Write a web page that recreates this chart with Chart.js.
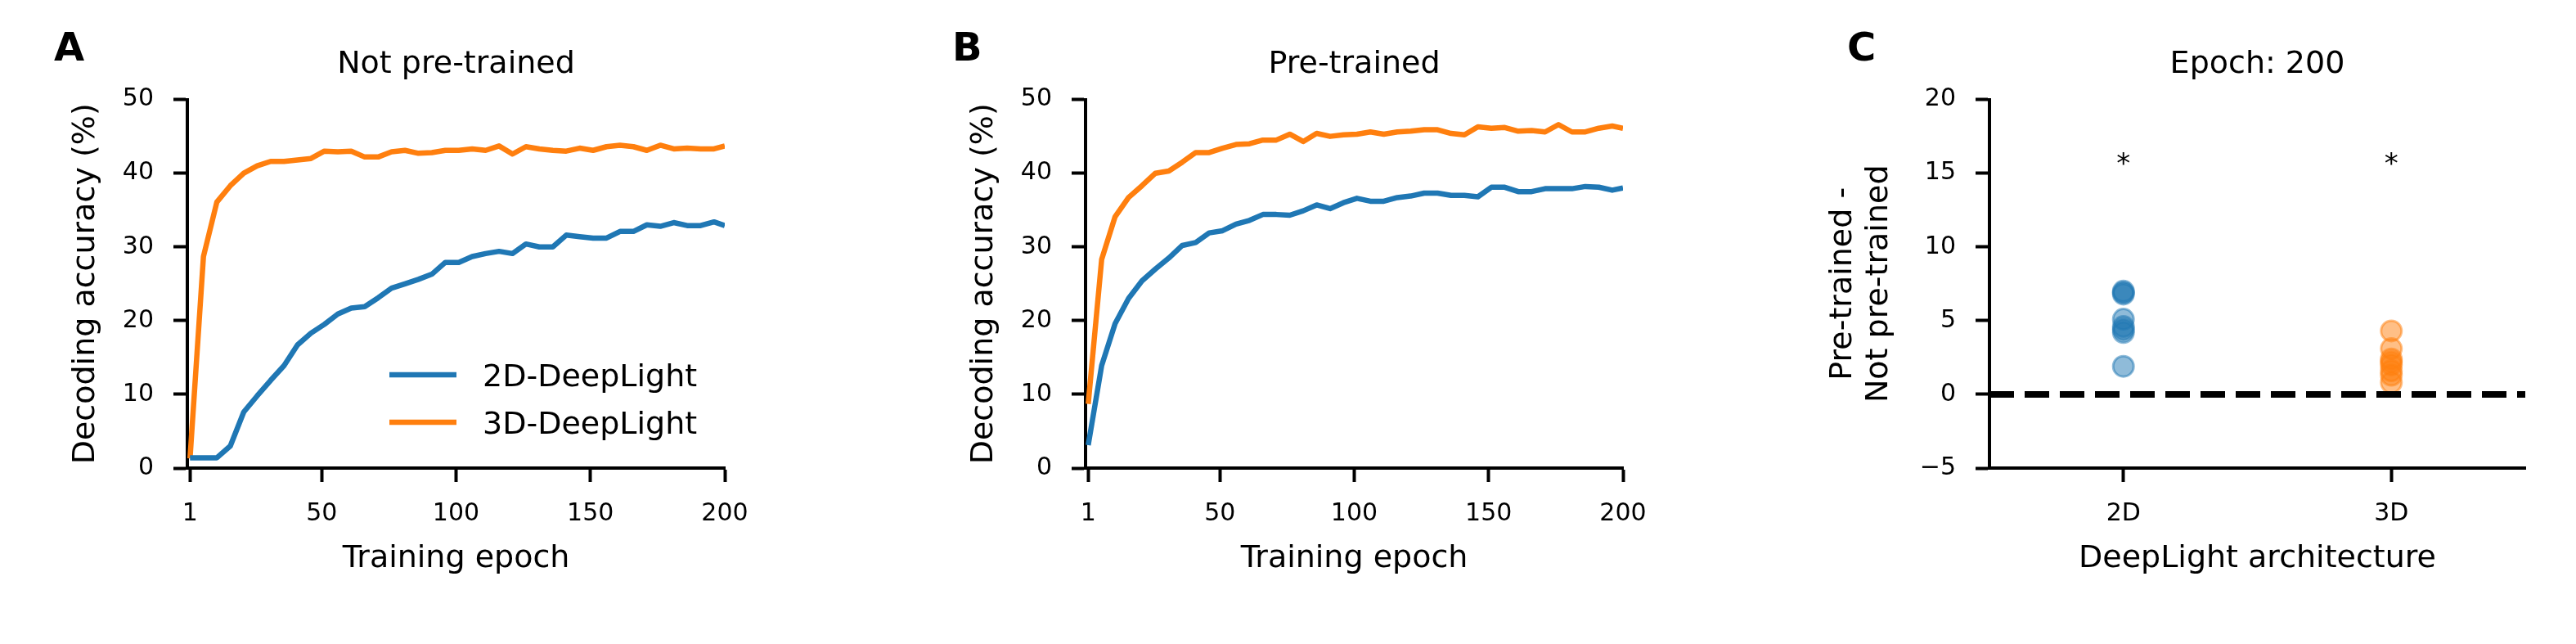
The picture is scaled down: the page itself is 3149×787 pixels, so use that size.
<!DOCTYPE html>
<html>
<head>
<meta charset="utf-8">
<script src="https://cdn.jsdelivr.net/npm/chart.js@4"></script>
<style>
  body { margin: 0; background: #fff; }
  #wrap { position: relative; width: 3149px; height: 787px; overflow: hidden; }
  canvas { position: absolute; top: 0; }
</style>
</head>
<body>
<div id="wrap">
  <canvas id="chartA" width="1000" height="787" style="left:0px"></canvas>
  <canvas id="chartB" width="1000" height="787" style="left:1098px"></canvas>
  <canvas id="chartC" width="999" height="787" style="left:2150px"></canvas>
</div>
<script>
// epochs where accuracy was logged
const epochs = [1, 6, 11, 16, 21, 26, 31, 36, 41, 46, 51, 56, 61, 66, 71, 76, 81, 86, 91, 96,
  101, 106, 111, 116, 121, 126, 131, 136, 141, 146, 151, 156, 161, 166, 171, 176, 181, 186, 191, 196, 200];
const epochTicks = [1, 50, 100, 150, 200];

// panel A: not pre-trained
const notPre2D = [1.4, 1.4, 1.4, 3.0, 7.6, 9.8, 11.9, 13.9, 16.7, 18.3, 19.5, 20.9, 21.7, 21.9, 23.1,
  24.4, 25.0, 25.6, 26.3, 27.9, 27.9, 28.7, 29.1, 29.4, 29.1, 30.4, 30.0, 30.0, 31.6, 31.4,
  31.2, 31.2, 32.1, 32.1, 33.0, 32.8, 33.3, 32.9, 32.9, 33.4, 32.9];
const notPre3D = [1.3, 28.7, 36.1, 38.3, 40.0, 41.0, 41.6, 41.6, 41.8, 42.0, 43.0, 42.9, 43.0, 42.2, 42.2,
  42.9, 43.1, 42.7, 42.8, 43.1, 43.1, 43.3, 43.1, 43.7, 42.6, 43.6, 43.3, 43.1, 43.0, 43.4,
  43.1, 43.6, 43.8, 43.6, 43.1, 43.8, 43.3, 43.4, 43.3, 43.3, 43.7];

// panel B: pre-trained
const pre2D = [3.1, 13.9, 19.6, 23.0, 25.4, 27.0, 28.5, 30.2, 30.6, 31.9, 32.2, 33.1, 33.6, 34.4, 34.4,
  34.3, 34.9, 35.7, 35.2, 36.0, 36.6, 36.2, 36.2, 36.7, 36.9, 37.3, 37.3, 37.0, 37.0, 36.8,
  38.1, 38.1, 37.5, 37.5, 37.9, 37.9, 37.9, 38.2, 38.1, 37.7, 38.0];
const pre3D = [8.7, 28.3, 34.1, 36.7, 38.3, 40.0, 40.3, 41.5, 42.8, 42.8, 43.4, 43.9, 44.0, 44.5, 44.5,
  45.3, 44.3, 45.4, 45.0, 45.2, 45.3, 45.6, 45.3, 45.6, 45.7, 45.9, 45.9, 45.4, 45.2, 46.3,
  46.1, 46.2, 45.7, 45.8, 45.6, 46.6, 45.6, 45.6, 46.1, 46.4, 46.1];

// panel C: difference at epoch 200
const archLabels = ['2D', '3D'];
const diff2D = [7.0, 6.9, 6.8, 5.1, 4.6, 4.4, 4.2, 1.9];
const diff3D = [4.3, 3.1, 2.4, 2.2, 2.0, 1.6, 1.3, 0.8];
const starY = [16, 16];
const zeroLine = [-0.5, 1.5];

const BLUE = '#1f77b4';
const ORANGE = '#ff7f0e';
const FONT = '"DejaVu Sans", sans-serif';

Chart.defaults.color = '#000';
Chart.defaults.font.family = FONT;

const toXY = (ys) => ys.map((y, i) => ({ x: epochs[i], y: y }));

// bold panel letter in the corner
const panelLetter = {
  id: 'panelLetter',
  afterDraw(chart, args, opts) {
    const ctx = chart.ctx;
    ctx.save();
    ctx.font = 'bold 48px ' + FONT;
    ctx.fillStyle = '#000';
    ctx.textBaseline = 'alphabetic';
    ctx.fillText(opts.text, opts.x, opts.y);
    ctx.restore();
  }
};

// legend inside the plot, matplotlib style
const lineLegend = {
  id: 'lineLegend',
  afterDraw(chart, args, opts) {
    if (!opts.show) return;
    const ctx = chart.ctx;
    ctx.save();
    ctx.font = '38px ' + FONT;
    ctx.textBaseline = 'alphabetic';
    chart.data.datasets.forEach((ds, i) => {
      const y = opts.y + i * opts.rowGap;
      ctx.strokeStyle = ds.borderColor;
      ctx.lineWidth = ds.borderWidth;
      ctx.beginPath();
      ctx.moveTo(opts.x, y);
      ctx.lineTo(opts.x + opts.len, y);
      ctx.stroke();
      ctx.fillStyle = '#000';
      ctx.fillText(ds.label, opts.x + opts.len + opts.gap, y + 14);
    });
    ctx.restore();
  }
};

// significance stars
const sigStars = {
  id: 'sigStars',
  afterDatasetsDraw(chart) {
    const ctx = chart.ctx;
    const xs = chart.scales.x, ys = chart.scales.y;
    ctx.save();
    ctx.font = '34px ' + FONT;
    ctx.fillStyle = '#000';
    ctx.textAlign = 'center';
    ctx.textBaseline = 'alphabetic';
    starY.forEach((v, i) => {
      ctx.fillText('*', xs.getPixelForValue(i), ys.getPixelForValue(v) + 17);
    });
    ctx.restore();
  }
};

function axisLook() {
  return {
    border: { display: true, color: '#000', width: 4 },
    grid: { display: true, drawOnChartArea: false, drawTicks: true, tickLength: 17, tickWidth: 4, tickColor: '#000', color: '#000' }
  };
}

function makeAccChart(id, title, letter, d2, d3, showLegend) {
  return new Chart(document.getElementById(id), {
    type: 'line',
    data: {
      datasets: [
        { label: '2D-DeepLight', data: toXY(d2), borderColor: BLUE, borderWidth: 6.5, pointRadius: 0, borderJoinStyle: 'round' },
        { label: '3D-DeepLight', data: toXY(d3), borderColor: ORANGE, borderWidth: 6.5, pointRadius: 0, borderJoinStyle: 'round' }
      ]
    },
    options: {
      responsive: false,
      animation: false,
      layout: { padding: { left: 82, right: 114, top: 56, bottom: 81 } },
      plugins: {
        legend: { display: false },
        tooltip: { enabled: false },
        title: { display: true, text: title, fullSize: false, font: { size: 38, weight: 'normal' }, padding: { top: 0, bottom: 20 } },
        panelLetter: { text: letter, x: 66, y: 74 },
        lineLegend: { show: showLegend, x: 476, y: 458, len: 82, gap: 32, rowGap: 58 }
      },
      scales: {
        x: Object.assign(axisLook(), {
          type: 'linear', min: 0, max: 200,
          afterBuildTicks: (s) => { s.ticks = epochTicks.map(v => ({ value: v })); },
          afterFit: (s) => { s.height = 134; },
          ticks: { font: { size: 30 }, padding: 21, autoSkip: false, maxRotation: 0 },
          title: { display: true, text: 'Training epoch', font: { size: 38 }, padding: 0 }
        }),
        y: Object.assign(axisLook(), {
          min: 0, max: 50,
          afterFit: (s) => { s.width = 147; },
          ticks: { font: { size: 30 }, padding: 24, stepSize: 10 },
          title: { display: true, text: 'Decoding accuracy (%)', font: { size: 38 }, padding: 0 }
        })
      }
    },
    plugins: [panelLetter, lineLegend]
  });
}

makeAccChart('chartA', 'Not pre-trained', 'A', notPre2D, notPre3D, true);
makeAccChart('chartB', 'Pre-trained', 'B', pre2D, pre3D, false);

new Chart(document.getElementById('chartC'), {
  type: 'scatter',
  data: {
    datasets: [
      { type: 'line', label: 'zero', data: zeroLine.map(x => ({ x: x, y: 0 })), borderColor: '#000', borderWidth: 8, borderDash: [30, 13], pointRadius: 0, order: 0 },
      { label: '2D', data: diff2D.map(v => ({ x: 0, y: v })), pointRadius: 12.5, borderWidth: 3,
        backgroundColor: 'rgba(31,119,180,0.5)', borderColor: 'rgba(31,119,180,0.5)', order: 2 },
      { label: '3D', data: diff3D.map(v => ({ x: 1, y: v })), pointRadius: 12.5, borderWidth: 3,
        backgroundColor: 'rgba(255,127,14,0.5)', borderColor: 'rgba(255,127,14,0.5)', order: 1 }
    ]
  },
  options: {
    responsive: false,
    animation: false,
    layout: { padding: { left: 81, right: 62, top: 56, bottom: 81 } },
    plugins: {
      legend: { display: false },
      tooltip: { enabled: false },
      title: { display: true, text: 'Epoch: 200', fullSize: false, font: { size: 38, weight: 'normal' }, padding: { top: 0, bottom: 20 } },
      panelLetter: { text: 'C', x: 108, y: 74 }
    },
    scales: {
      x: Object.assign(axisLook(), {
        type: 'linear', min: -0.5, max: 1.5,
        afterBuildTicks: (s) => { s.ticks = archLabels.map((l, i) => ({ value: i })); },
        afterFit: (s) => { s.height = 134; },
        ticks: { font: { size: 30 }, padding: 21, autoSkip: false, maxRotation: 0, callback: (v, i) => archLabels[i] },
        title: { display: true, text: 'DeepLight architecture', font: { size: 38 }, padding: 0 }
      }),
      y: Object.assign(axisLook(), {
        min: -5, max: 20,
        afterFit: (s) => { s.width = 201; },
        ticks: { font: { size: 30 }, padding: 24, stepSize: 5, callback: (v) => v < 0 ? '\u2212' + Math.abs(v) : v },
        title: { display: true, text: ['Pre-trained -', 'Not pre-trained'], font: { size: 38, lineHeight: 1.16 }, padding: 0 }
      })
    }
  },
  plugins: [panelLetter, sigStars]
});
</script>
</body>
</html>
